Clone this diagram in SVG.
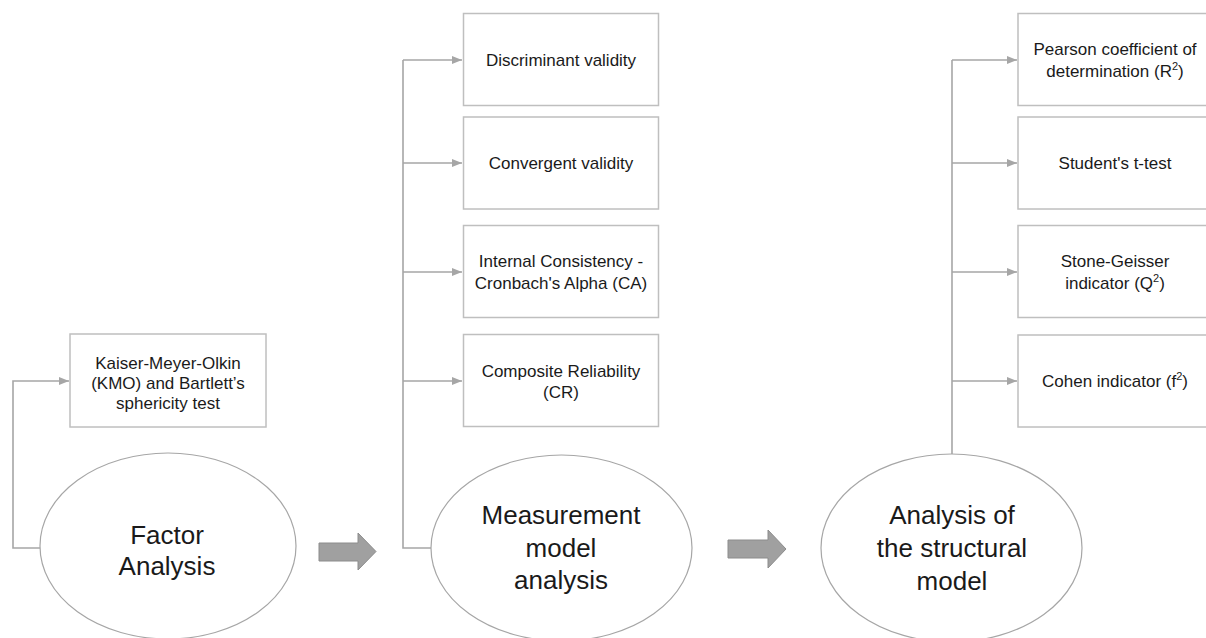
<svg xmlns="http://www.w3.org/2000/svg" width="1206" height="638" viewBox="0 0 1206 638">
  <style>
    .box { fill: #ffffff; stroke: #bfbfbf; stroke-width: 1.5; }
    .oval { fill: #ffffff; stroke: #a6a6a6; stroke-width: 1.2; }
    .wire { fill: none; stroke: #a6a6a6; stroke-width: 1.6; }
    .step { fill: #a0a0a0; stroke: #8c8c8c; stroke-width: 1; }
    .t { font-family: "Liberation Sans", Arial, sans-serif; font-size: 17px; fill: #1a1a1a; text-anchor: middle; }
    .big { font-family: "Liberation Sans", Arial, sans-serif; font-size: 26px; fill: #1a1a1a; text-anchor: middle; }
    .sup { font-size: 11px; }
  </style>
  <defs>
    <marker id="tip" markerUnits="userSpaceOnUse" markerWidth="10" markerHeight="10" viewBox="0 0 10 10" refX="10" refY="5" orient="auto">
      <path d="M0,1 L10,5 L0,9 Z" fill="#a6a6a6"/>
    </marker>
  </defs>
  <rect width="1206" height="638" fill="#ffffff"/>

  <!-- connectors -->
  <g id="connectors">
    <path class="wire" d="M40,548 H13 V381 H69" marker-end="url(#tip)"/>
    <path class="wire" d="M431,548 H403 V60"/>
    <path class="wire" d="M403,60 H462" marker-end="url(#tip)"/>
    <path class="wire" d="M403,163 H462" marker-end="url(#tip)"/>
    <path class="wire" d="M403,272 H462" marker-end="url(#tip)"/>
    <path class="wire" d="M403,381 H462" marker-end="url(#tip)"/>
    <path class="wire" d="M952,454 V60"/>
    <path class="wire" d="M952,60 H1017" marker-end="url(#tip)"/>
    <path class="wire" d="M952,163 H1017" marker-end="url(#tip)"/>
    <path class="wire" d="M952,272 H1017" marker-end="url(#tip)"/>
    <path class="wire" d="M952,381 H1017" marker-end="url(#tip)"/>
    <path id="step1" class="step" d="M319,543 H358 V533 L376,551.5 L358,570 V561 H319 Z"/>
    <path id="step2" class="step" d="M728,540 H768 V530 L786,549 L768,568 V558 H728 Z"/>
  </g>

  <!-- stage 1 -->
  <g id="factor-analysis">
    <ellipse class="oval" cx="168" cy="546" rx="128" ry="93"/>
    <text class="big" x="167" y="544">Factor</text>
    <text class="big" x="167" y="575">Analysis</text>
  </g>
  <g id="kmo">
    <rect class="box" x="70" y="334" width="196" height="93"/>
    <text class="t" x="168" y="369">Kaiser-Meyer-Olkin</text>
    <text class="t" x="168" y="389">(KMO) and Bartlett’s</text>
    <text class="t" x="168" y="409">sphericity test</text>
  </g>

  <!-- stage 2 -->
  <g id="measurement-model">
    <ellipse class="oval" cx="561.5" cy="548" rx="130.5" ry="93"/>
    <text class="big" x="561" y="524">Measurement</text>
    <text class="big" x="561" y="557">model</text>
    <text class="big" x="561" y="589">analysis</text>
  </g>
  <g id="discriminant">
    <rect class="box" x="463.5" y="13.5" width="195" height="92"/>
    <text class="t" x="561" y="66">Discriminant validity</text>
  </g>
  <g id="convergent">
    <rect class="box" x="463.5" y="117" width="195" height="92"/>
    <text class="t" x="561" y="169">Convergent validity</text>
  </g>
  <g id="internal-consistency">
    <rect class="box" x="463.5" y="225.5" width="195" height="92"/>
    <text class="t" x="561" y="267">Internal Consistency -</text>
    <text class="t" x="561" y="289">Cronbach's Alpha (CA)</text>
  </g>
  <g id="composite-reliability">
    <rect class="box" x="463.5" y="334.5" width="195" height="92"/>
    <text class="t" x="561" y="377">Composite Reliability</text>
    <text class="t" x="561" y="398">(CR)</text>
  </g>

  <!-- stage 3 -->
  <g id="structural-model">
    <ellipse class="oval" cx="951.5" cy="548" rx="130.5" ry="94"/>
    <text class="big" x="952" y="524">Analysis of</text>
    <text class="big" x="952" y="557">the structural</text>
    <text class="big" x="952" y="590">model</text>
  </g>
  <g id="pearson">
    <rect class="box" x="1018" y="13.5" width="200" height="92"/>
    <text class="t" x="1115" y="55">Pearson coefficient of</text>
    <text class="t" x="1115" y="77">determination (R<tspan class="sup" dy="-7">2</tspan><tspan dy="7">)</tspan></text>
  </g>
  <g id="t-test">
    <rect class="box" x="1018" y="117" width="200" height="92"/>
    <text class="t" x="1115" y="169">Student's t-test</text>
  </g>
  <g id="stone-geisser">
    <rect class="box" x="1018" y="225.5" width="200" height="92"/>
    <text class="t" x="1115" y="267">Stone-Geisser</text>
    <text class="t" x="1115" y="289">indicator (Q<tspan class="sup" dy="-7">2</tspan><tspan dy="7">)</tspan></text>
  </g>
  <g id="cohen">
    <rect class="box" x="1018" y="335" width="200" height="92"/>
    <text class="t" x="1115" y="387">Cohen indicator (f<tspan class="sup" dy="-7">2</tspan><tspan dy="7">)</tspan></text>
  </g>
</svg>
